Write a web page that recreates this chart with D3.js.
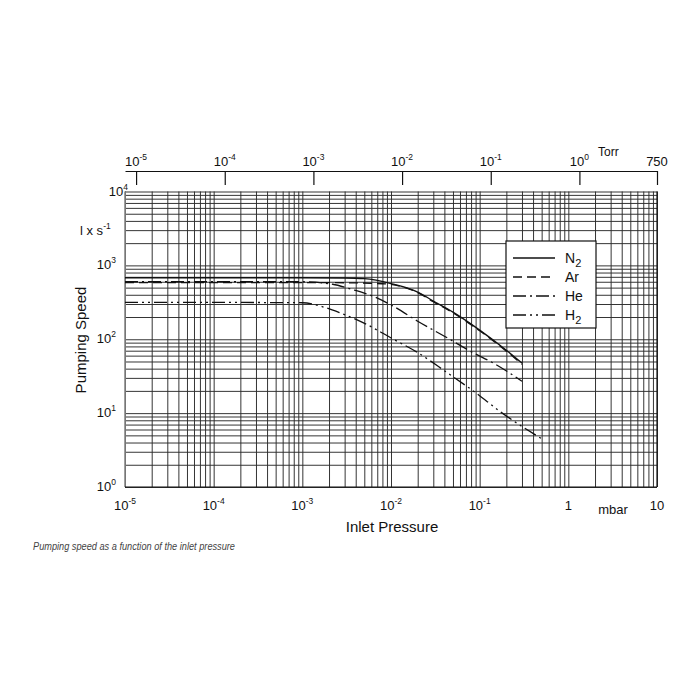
<!DOCTYPE html>
<html>
<head>
<meta charset="utf-8">
<script src="https://cdnjs.cloudflare.com/ajax/libs/d3/7.8.5/d3.min.js"></script>
<style>
  html, body { margin: 0; padding: 0; background: #fff; }
  svg text { font-family: "Liberation Sans", Arial, sans-serif; fill: #111; }
</style>
</head>
<body>
<svg id="chart" width="700" height="700"></svg>
<script>
// ---------------- data ----------------
const gases = ["N2", "Ar", "He", "H2"];

const n2Pressure = [1e-5, 1e-4, 1e-3, 3e-3, 5e-3, 1e-2, 2e-2, 3e-2, 5e-2, 0.1, 0.2, 0.3];
const n2Speed    = [680, 680, 680, 675, 660, 567, 435, 329, 233, 133, 71, 47.6];

const arPressure = [1e-5, 1e-4, 1e-3, 3e-3, 6e-3, 1e-2, 2e-2, 3e-2, 5e-2, 0.1, 0.2, 0.3];
const arSpeed    = [585, 585, 585, 582, 572, 552, 428, 322, 228, 130, 69, 46];

const hePressure = [1e-5, 1e-4, 1e-3, 2.2e-3, 3.5e-3, 6e-3, 1.1e-2, 2e-2, 4e-2, 8e-2, 0.15, 0.3];
const heSpeed    = [600, 600, 600, 555, 478, 390, 273, 175, 110, 68, 46, 27];

const h2Pressure = [1e-5, 1e-4, 1e-3, 1.7e-3, 2.7e-3, 4.7e-3, 1.05e-2, 2e-2, 4.2e-2, 8.8e-2, 0.18, 0.5];
const h2Speed    = [315, 315, 312, 275, 226, 171, 101, 66, 36, 19.3, 10, 4.5];

// axis ticks
const mbarTicks  = [1e-5, 1e-4, 1e-3, 1e-2, 1e-1, 1, 10];
const mbarLabels = [["10", "-5"], ["10", "-4"], ["10", "-3"], ["10", "-2"], ["10", "-1"], ["1", ""], ["10", ""]];
const torrTicks  = [1e-5, 1e-4, 1e-3, 1e-2, 1e-1, 1, 7.5];
const torrLabels = [["10", "-5"], ["10", "-4"], ["10", "-3"], ["10", "-2"], ["10", "-1"], ["10", "0"], ["750", ""]];
const speedTicks  = [1, 10, 100, 1000, 10000];
const speedLabels = [["10", "0"], ["10", "1"], ["10", "2"], ["10", "3"], ["10", "4"]];

const MBAR_PER_TORR = 1.33322;

// ---------------- layout ----------------
const L = 125, R = 657, T = 191.5, B = 487;
const svg = d3.select("#chart");

const x = d3.scaleLog().domain([1e-5, 10]).range([L, R]);
const y = d3.scaleLog().domain([1, 1e4]).range([B, T]);
const xTorr = d3.scaleLog().domain([1e-5 / MBAR_PER_TORR, 10 / MBAR_PER_TORR]).range([L, R]);

// grid values (1..9 per decade)
const gridX = [];
for (let e = -5; e <= 0; e++) for (let k = 1; k <= 9; k++) gridX.push(k * Math.pow(10, e));
gridX.push(10);
const gridY = [];
for (let e = 0; e <= 3; e++) for (let k = 1; k <= 9; k++) gridY.push(k * Math.pow(10, e));
gridY.push(1e4);

// vertical grid
const gx = svg.append("g").attr("transform", `translate(0,${B})`)
  .call(d3.axisBottom(x).tickValues(gridX).tickSize(-(B - T)).tickFormat(""));
gx.select(".domain").remove();
gx.selectAll("line").attr("stroke", "#2a2a2a").attr("stroke-width", 0.95);

// horizontal grid
const gy = svg.append("g").attr("transform", `translate(${L},0)`)
  .call(d3.axisLeft(y).tickValues(gridY).tickSize(-(R - L)).tickFormat(""));
gy.select(".domain").remove();
gy.selectAll("line").attr("stroke", "#2a2a2a").attr("stroke-width", 0.95);

// frame
svg.append("line").attr("x1", L).attr("x2", L).attr("y1", T).attr("y2", B)
  .attr("stroke", "#888").attr("stroke-width", 1.6);
svg.append("line").attr("x1", L).attr("x2", R).attr("y1", B).attr("y2", B)
  .attr("stroke", "#111").attr("stroke-width", 1.2);
svg.append("line").attr("x1", R).attr("x2", R).attr("y1", T).attr("y2", B)
  .attr("stroke", "#111").attr("stroke-width", 1.2);

// top Torr axis
const topY = 171;
const gt = svg.append("g").attr("transform", `translate(0,${topY})`)
  .call(d3.axisBottom(xTorr).tickValues(torrTicks).tickSize(14).tickSizeOuter(0).tickFormat(""));
gt.select(".domain").attr("stroke", "#111").attr("stroke-width", 1.2);
gt.selectAll("line").attr("stroke", "#111").attr("stroke-width", 1.2);

function powLabel(g, px, py, base, exp, anchor, size, expSize) {
  const t = g.append("text").attr("x", px).attr("y", py)
    .attr("text-anchor", anchor).style("font-size", size + "px");
  t.append("tspan").text(base);
  if (exp) t.append("tspan").attr("dy", -6).style("font-size", expSize + "px").text(exp);
  return t;
}

torrTicks.forEach((v, i) => {
  powLabel(svg, xTorr(v), 166, torrLabels[i][0], torrLabels[i][1], "middle", 13, 8.5);
});
svg.append("text").attr("x", 598).attr("y", 156).style("font-size", "12px").text("Torr");

// bottom mbar labels
mbarTicks.forEach((v, i) => {
  powLabel(svg, x(v), 510, mbarLabels[i][0], mbarLabels[i][1], "middle", 13, 8.5);
});
svg.append("text").attr("x", 613).attr("y", 514).attr("text-anchor", "middle")
  .style("font-size", "13px").text("mbar");
svg.append("text").attr("x", 392).attr("y", 532).attr("text-anchor", "middle")
  .style("font-size", "15px").text("Inlet Pressure");

// left labels
speedTicks.forEach((v, i) => {
  const xx = (v === 1e4) ? 128 : 116;
  powLabel(svg, xx, y(v) + 4, speedLabels[i][0], speedLabels[i][1], "end", 13, 8.5);
});
const unit = svg.append("text").attr("x", 80).attr("y", 235).style("font-size", "13px");
unit.append("tspan").text("l x s");
unit.append("tspan").attr("dy", -6).style("font-size", "8.5px").text("-1");

svg.append("text").attr("transform", "translate(86,340) rotate(-90)")
  .attr("text-anchor", "middle").style("font-size", "15px").text("Pumping Speed");

// caption
svg.append("text").attr("x", 33).attr("y", 550)
  .style("font-family", "'Liberation Sans Narrow', 'Liberation Sans', Arial, sans-serif")
  .style("font-style", "italic").style("font-size", "11.5px").style("fill", "#444")
  .attr("textLength", 202).attr("lengthAdjust", "spacingAndGlyphs")
  .text("Pumping speed as a function of the inlet pressure");

// curves
const styles = {
  N2: { dash: null },
  Ar: { dash: "9,5" },
  He: { dash: "13,4,2,4" },
  H2: { dash: "13,4,2,4,2,4" }
};
const series = [
  { name: "Ar", p: arPressure, s: arSpeed },
  { name: "He", p: hePressure, s: heSpeed },
  { name: "H2", p: h2Pressure, s: h2Speed },
  { name: "N2", p: n2Pressure, s: n2Speed }
];
const line = d3.line().x(d => x(d[0])).y(d => y(d[1])).curve(d3.curveMonotoneX);
series.forEach(sr => {
  const pts = sr.p.map((p, i) => [p, sr.s[i]]);
  svg.append("path").attr("d", line(pts)).attr("fill", "none")
    .attr("stroke", "#111").attr("stroke-width", 1.3)
    .attr("stroke-dasharray", styles[sr.name].dash);
});

// legend
const lg = svg.append("g");
lg.append("rect").attr("x", 506).attr("y", 241).attr("width", 90).attr("height", 87)
  .attr("fill", "#fff").attr("stroke", "#111").attr("stroke-width", 1.2);
gases.forEach((g, i) => {
  const yy = 258 + i * 19;
  lg.append("line").attr("x1", 513).attr("x2", 555).attr("y1", yy).attr("y2", yy)
    .attr("stroke", "#111").attr("stroke-width", 1.3)
    .attr("stroke-dasharray", styles[g].dash);
  const t = lg.append("text").attr("x", 565).attr("y", yy + 5).style("font-size", "14px");
  t.append("tspan").text(g.replace("2", ""));
  if (g.includes("2")) t.append("tspan").attr("dy", 4).style("font-size", "11px").text("2");
});
</script>
</body>
</html>
